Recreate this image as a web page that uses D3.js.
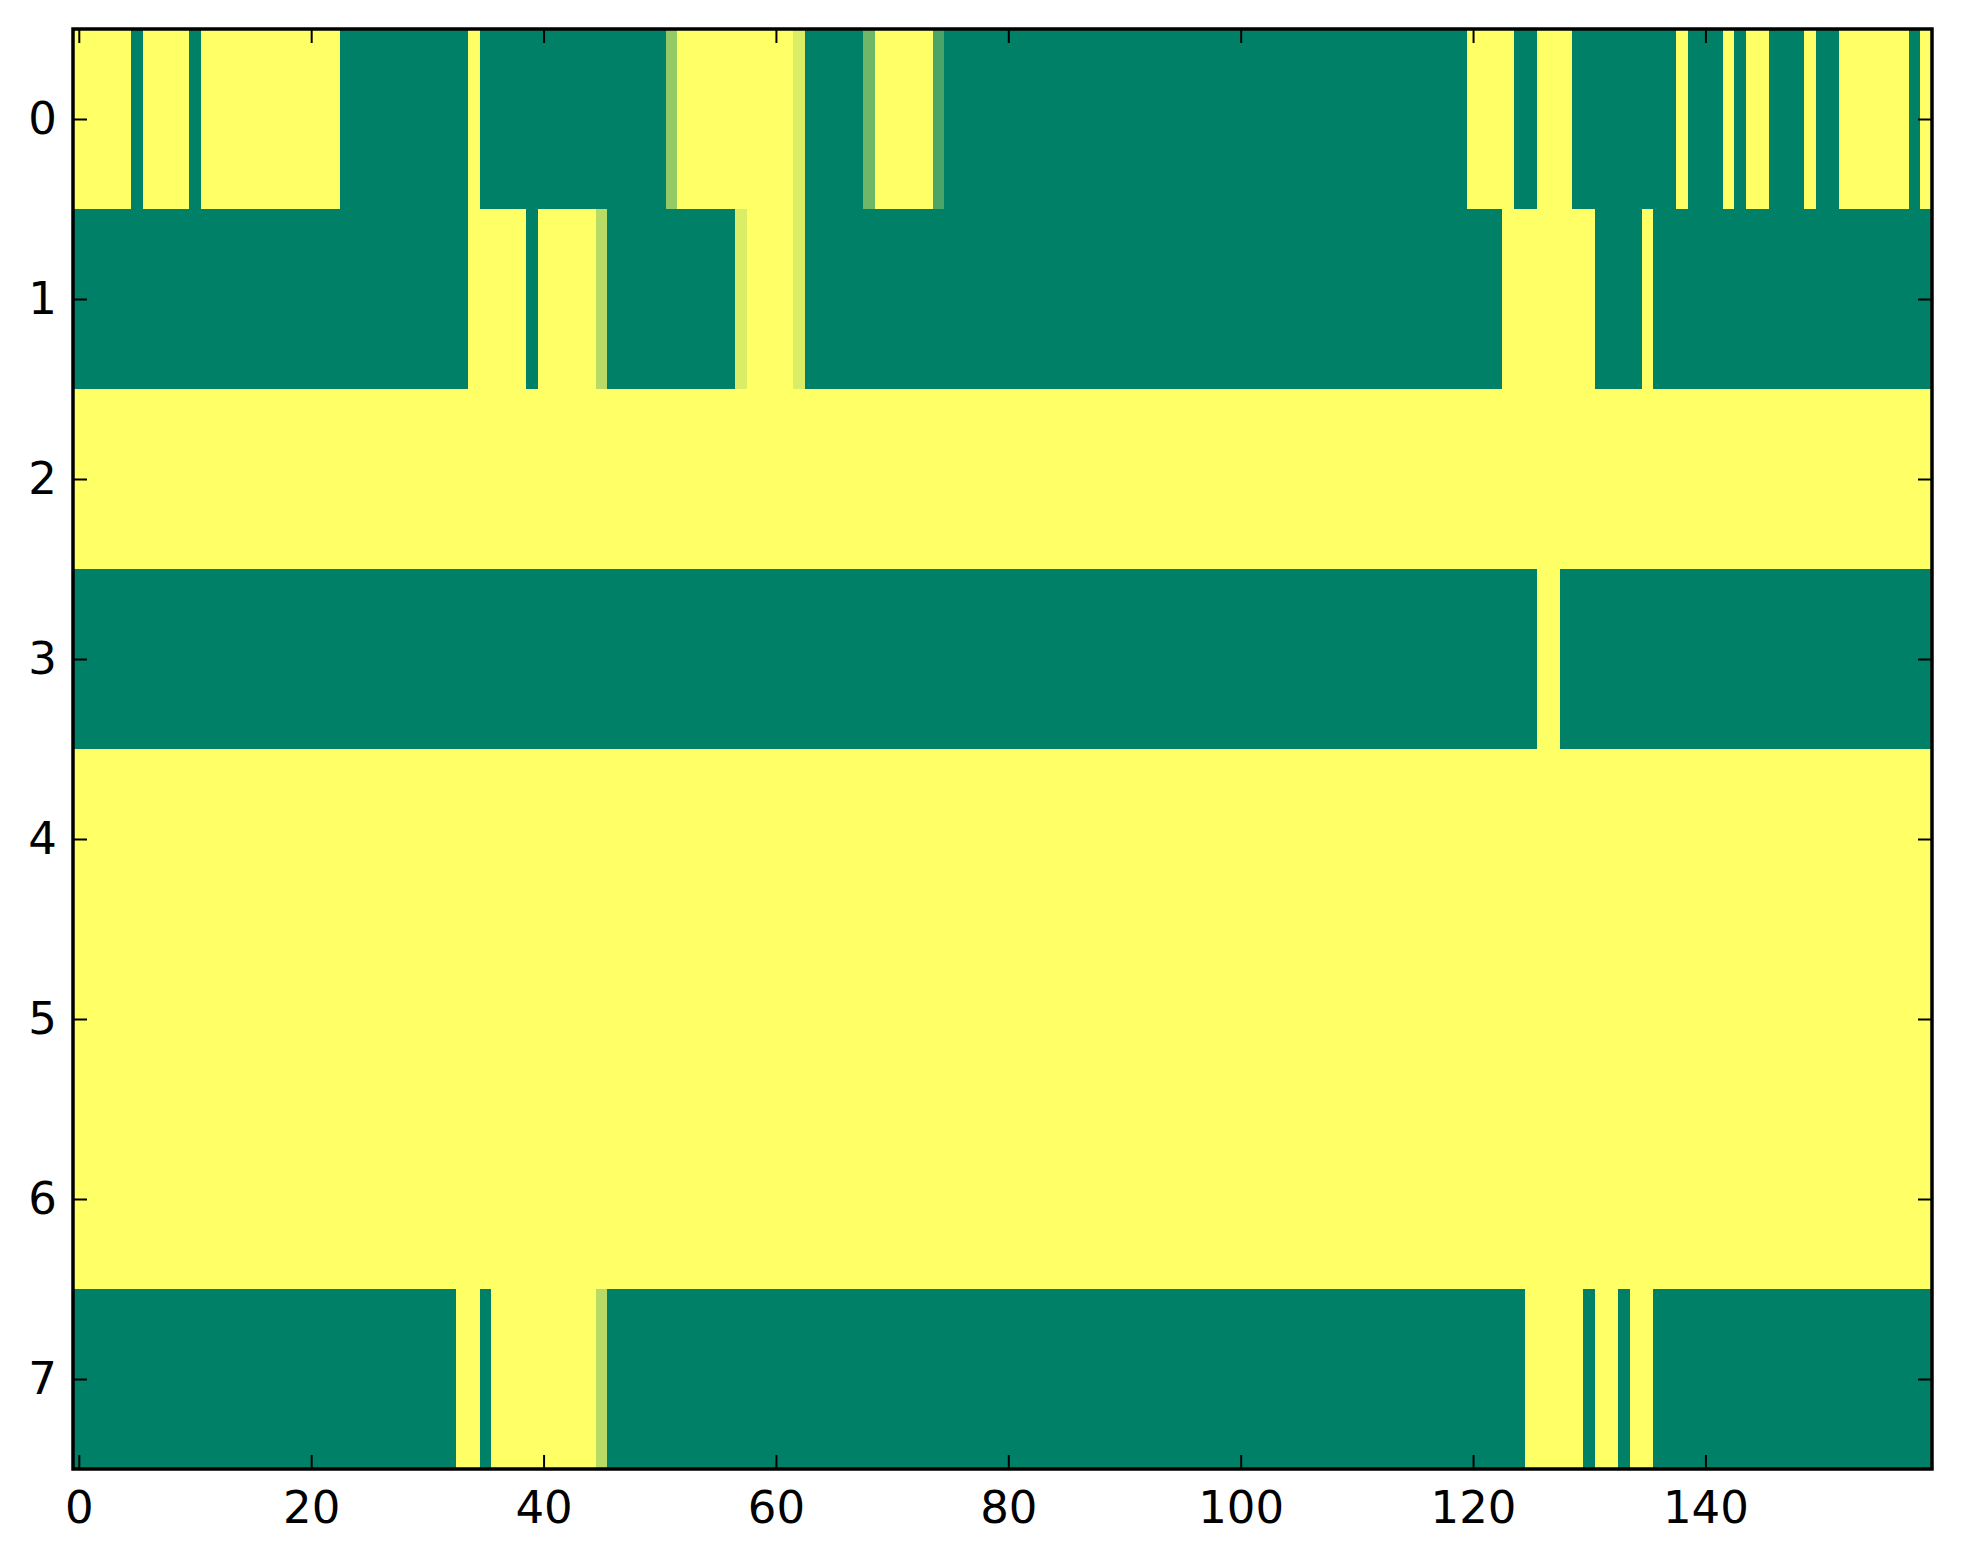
<!DOCTYPE html>
<html>
<head>
<meta charset="utf-8">
<script src="https://cdn.jsdelivr.net/npm/d3@7"></script>
<style>
  html, body { margin: 0; padding: 0; background: #fff; }
  svg { display: block; }
</style>
</head>
<body>
<svg id="chart"></svg>
<script>
// Heatmap rows, 160 columns each (0 = green, 1 = yellow in the "summer" colormap)
const row0 = [
  1,1,1,1,1,0,1,1,1,1,0,1,1,1,1,1,1,1,1,1,
  1,1,1,0,0,0,0,0,0,0,0,0,0,0,1,0,0,0,0,0,
  0,0,0,0,0,0,0,0,0,0,0,0.58,1,1,1,1,1,1,1,1,
  1,1,0.86,0,0,0,0,0,0.43,1,1,1,1,1,0.29,0,0,0,0,0,
  0,0,0,0,0,0,0,0,0,0,0,0,0,0,0,0,0,0,0,0,
  0,0,0,0,0,0,0,0,0,0,0,0,0,0,0,0,0,0,0,0,
  1,1,1,1,0,0,1,1,1,0,0,0,0,0,0,0,0,0,1,0,
  0,0,1,0,1,1,0,0,0,1,0,0,1,1,1,1,1,1,0,1
]
const row1 = [
  0,0,0,0,0,0,0,0,0,0,0,0,0,0,0,0,0,0,0,0,
  0,0,0,0,0,0,0,0,0,0,0,0,0,0,1,1,1,1,1,0,
  1,1,1,1,1,0.72,0,0,0,0,0,0,0,0,0,0,0,0.86,1,1,
  1,1,0.86,0,0,0,0,0,0,0,0,0,0,0,0,0,0,0,0,0,
  0,0,0,0,0,0,0,0,0,0,0,0,0,0,0,0,0,0,0,0,
  0,0,0,0,0,0,0,0,0,0,0,0,0,0,0,0,0,0,0,0,
  0,0,0,1,1,1,1,1,1,1,1,0,0,0,0,1,0,0,0,0,
  0,0,0,0,0,0,0,0,0,0,0,0,0,0,0,0,0,0,0,0
]
const row2 = [
  1,1,1,1,1,1,1,1,1,1,1,1,1,1,1,1,1,1,1,1,
  1,1,1,1,1,1,1,1,1,1,1,1,1,1,1,1,1,1,1,1,
  1,1,1,1,1,1,1,1,1,1,1,1,1,1,1,1,1,1,1,1,
  1,1,1,1,1,1,1,1,1,1,1,1,1,1,1,1,1,1,1,1,
  1,1,1,1,1,1,1,1,1,1,1,1,1,1,1,1,1,1,1,1,
  1,1,1,1,1,1,1,1,1,1,1,1,1,1,1,1,1,1,1,1,
  1,1,1,1,1,1,1,1,1,1,1,1,1,1,1,1,1,1,1,1,
  1,1,1,1,1,1,1,1,1,1,1,1,1,1,1,1,1,1,1,1
]
const row3 = [
  0,0,0,0,0,0,0,0,0,0,0,0,0,0,0,0,0,0,0,0,
  0,0,0,0,0,0,0,0,0,0,0,0,0,0,0,0,0,0,0,0,
  0,0,0,0,0,0,0,0,0,0,0,0,0,0,0,0,0,0,0,0,
  0,0,0,0,0,0,0,0,0,0,0,0,0,0,0,0,0,0,0,0,
  0,0,0,0,0,0,0,0,0,0,0,0,0,0,0,0,0,0,0,0,
  0,0,0,0,0,0,0,0,0,0,0,0,0,0,0,0,0,0,0,0,
  0,0,0,0,0,0,1,1,0,0,0,0,0,0,0,0,0,0,0,0,
  0,0,0,0,0,0,0,0,0,0,0,0,0,0,0,0,0,0,0,0
]
const row4 = [
  1,1,1,1,1,1,1,1,1,1,1,1,1,1,1,1,1,1,1,1,
  1,1,1,1,1,1,1,1,1,1,1,1,1,1,1,1,1,1,1,1,
  1,1,1,1,1,1,1,1,1,1,1,1,1,1,1,1,1,1,1,1,
  1,1,1,1,1,1,1,1,1,1,1,1,1,1,1,1,1,1,1,1,
  1,1,1,1,1,1,1,1,1,1,1,1,1,1,1,1,1,1,1,1,
  1,1,1,1,1,1,1,1,1,1,1,1,1,1,1,1,1,1,1,1,
  1,1,1,1,1,1,1,1,1,1,1,1,1,1,1,1,1,1,1,1,
  1,1,1,1,1,1,1,1,1,1,1,1,1,1,1,1,1,1,1,1
]
const row5 = [
  1,1,1,1,1,1,1,1,1,1,1,1,1,1,1,1,1,1,1,1,
  1,1,1,1,1,1,1,1,1,1,1,1,1,1,1,1,1,1,1,1,
  1,1,1,1,1,1,1,1,1,1,1,1,1,1,1,1,1,1,1,1,
  1,1,1,1,1,1,1,1,1,1,1,1,1,1,1,1,1,1,1,1,
  1,1,1,1,1,1,1,1,1,1,1,1,1,1,1,1,1,1,1,1,
  1,1,1,1,1,1,1,1,1,1,1,1,1,1,1,1,1,1,1,1,
  1,1,1,1,1,1,1,1,1,1,1,1,1,1,1,1,1,1,1,1,
  1,1,1,1,1,1,1,1,1,1,1,1,1,1,1,1,1,1,1,1
]
const row6 = [
  1,1,1,1,1,1,1,1,1,1,1,1,1,1,1,1,1,1,1,1,
  1,1,1,1,1,1,1,1,1,1,1,1,1,1,1,1,1,1,1,1,
  1,1,1,1,1,1,1,1,1,1,1,1,1,1,1,1,1,1,1,1,
  1,1,1,1,1,1,1,1,1,1,1,1,1,1,1,1,1,1,1,1,
  1,1,1,1,1,1,1,1,1,1,1,1,1,1,1,1,1,1,1,1,
  1,1,1,1,1,1,1,1,1,1,1,1,1,1,1,1,1,1,1,1,
  1,1,1,1,1,1,1,1,1,1,1,1,1,1,1,1,1,1,1,1,
  1,1,1,1,1,1,1,1,1,1,1,1,1,1,1,1,1,1,1,1
]
const row7 = [
  0,0,0,0,0,0,0,0,0,0,0,0,0,0,0,0,0,0,0,0,
  0,0,0,0,0,0,0,0,0,0,0,0,0,1,1,0,1,1,1,1,
  1,1,1,1,1,0.72,0,0,0,0,0,0,0,0,0,0,0,0,0,0,
  0,0,0,0,0,0,0,0,0,0,0,0,0,0,0,0,0,0,0,0,
  0,0,0,0,0,0,0,0,0,0,0,0,0,0,0,0,0,0,0,0,
  0,0,0,0,0,0,0,0,0,0,0,0,0,0,0,0,0,0,0,0,
  0,0,0,0,0,1,1,1,1,1,0,1,1,0,1,1,0,0,0,0,
  0,0,0,0,0,0,0,0,0,0,0,0,0,0,0,0,0,0,0,0
]

const rows = [row0, row1, row2, row3, row4, row5, row6, row7]
const xTicks = [0, 20, 40, 60, 80, 100, 120, 140]
const yTicks = [0, 1, 2, 3, 4, 5, 6, 7]

const W = 1963, H = 1564
const plot = { left: 73, top: 29, width: 1859, height: 1440 }
const nCols = row0.length

const svg = d3.select("#chart").attr("width", W).attr("height", H)
svg.append("rect").attr("width", W).attr("height", H).attr("fill", "#fff")

const x = d3.scaleLinear().domain([-0.5, nCols - 0.5]).range([plot.left, plot.left + plot.width])
const y = d3.scaleLinear().domain([-0.5, rows.length - 0.5]).range([plot.top, plot.top + plot.height])

// matplotlib "summer": r = v, g = 0.5 + v/2, b = 0.4
const color = d3.scaleLinear().domain([0, 1]).range(["#008066", "#ffff66"])

const cells = rows.flatMap((r, ri) => r.map((v, ci) => ({ ri, ci, v })))

svg.append("g")
  .attr("shape-rendering", "crispEdges")
  .selectAll("rect")
  .data(cells)
  .join("rect")
  .attr("x", d => x(d.ci - 0.5))
  .attr("y", d => y(d.ri - 0.5))
  .attr("width", d => x(d.ci + 0.5) - x(d.ci - 0.5) + 0.6)
  .attr("height", d => y(d.ri + 0.5) - y(d.ri - 0.5) + 0.6)
  .attr("fill", d => color(d.v))

// Axes with inward ticks on all four sides
const tickLen = 14
const font = "'DejaVu Sans', sans-serif"

function styleAxis(g) {
  g.select(".domain").remove()
  g.selectAll(".tick line").attr("stroke", "#000").attr("stroke-width", 2)
  g.selectAll(".tick text")
    .attr("fill", "#000")
    .attr("font-family", font)
    .attr("font-size", 45)
}

svg.append("g")
  .attr("transform", `translate(0,${plot.top + plot.height})`)
  .call(d3.axisBottom(x).tickValues(xTicks).tickSize(-tickLen).tickPadding(22).tickFormat(d3.format("d")))
  .call(styleAxis)

svg.append("g")
  .attr("transform", `translate(0,${plot.top})`)
  .call(d3.axisTop(x).tickValues(xTicks).tickSize(-tickLen).tickFormat(""))
  .call(styleAxis)

svg.append("g")
  .attr("transform", `translate(${plot.left},0)`)
  .call(d3.axisLeft(y).tickValues(yTicks).tickSize(-tickLen).tickPadding(16).tickFormat(d3.format("d")))
  .call(styleAxis)

svg.append("g")
  .attr("transform", `translate(${plot.left + plot.width},0)`)
  .call(d3.axisRight(y).tickValues(yTicks).tickSize(-tickLen).tickFormat(""))
  .call(styleAxis)

// Frame
svg.append("rect")
  .attr("x", plot.left).attr("y", plot.top)
  .attr("width", plot.width).attr("height", plot.height)
  .attr("fill", "none")
  .attr("stroke", "#000")
  .attr("stroke-width", 3.5)
</script>
</body>
</html>
